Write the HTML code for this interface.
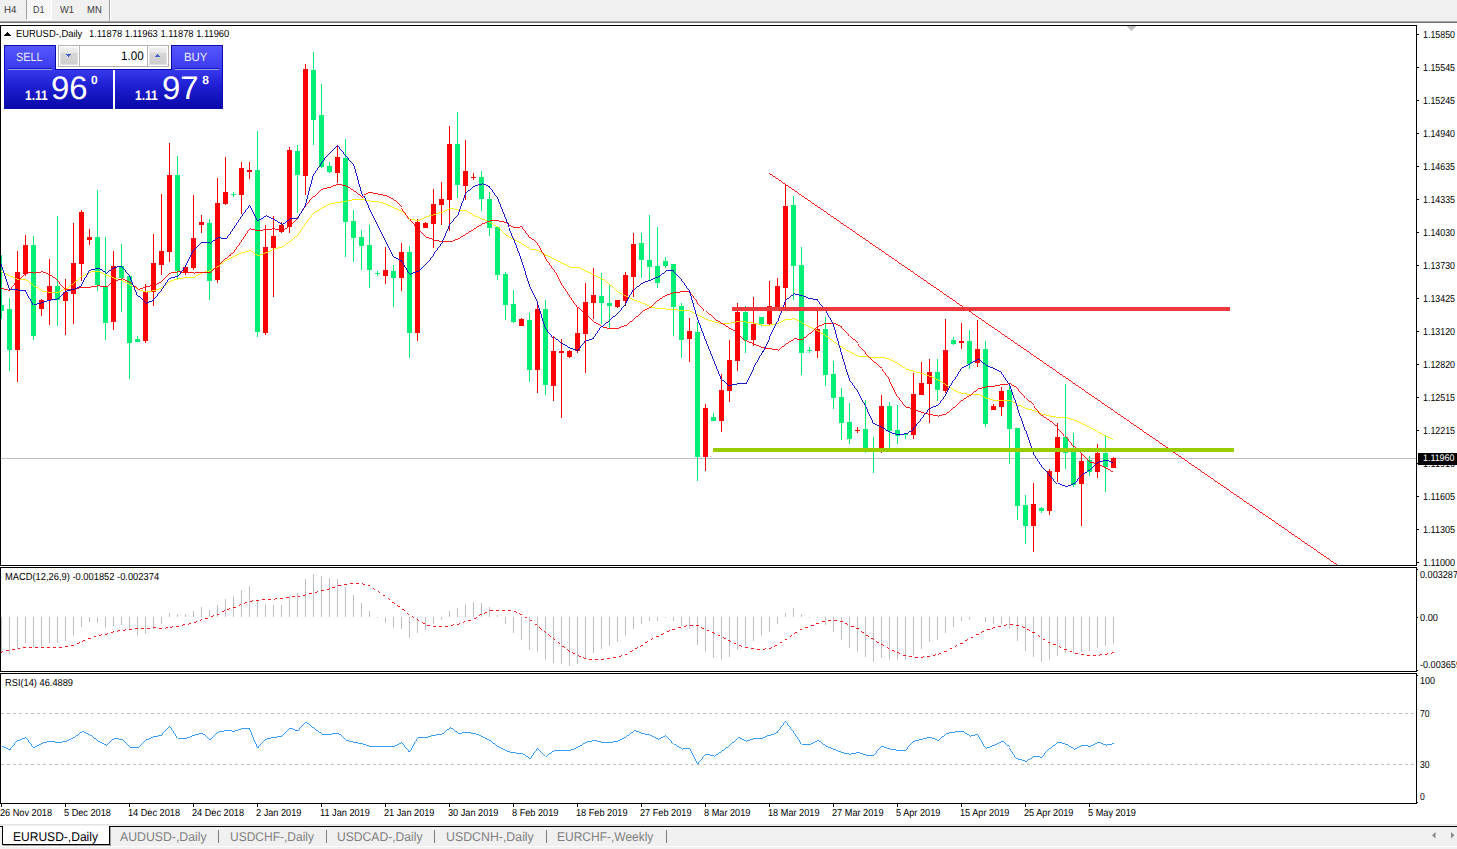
<!DOCTYPE html>
<html><head><meta charset="utf-8"><title>EURUSD Daily</title>
<style>
html,body{margin:0;padding:0;background:#fff;}
body{width:1457px;height:849px;overflow:hidden;font-family:"Liberation Sans",sans-serif;}
#root{position:relative;width:1457px;height:849px;overflow:hidden;background:#fff;}
.t{position:absolute;white-space:pre;transform-origin:0 50%;text-rendering:geometricPrecision;font-family:"Liberation Sans",sans-serif;}
.a{position:absolute;}
#toolbar{left:0;top:0;width:1457px;height:21px;background:#f0f0f0;}
#tbl1{left:0;top:21px;width:1457px;height:1px;background:#a8a8a8;}
#tbl2{left:0;top:22px;width:1457px;height:1px;background:#6e6e6e;}
#d1btn{left:26px;top:0;width:26px;height:20px;background:repeating-conic-gradient(#ffffff 0 25%,#f0f0f0 0 50%) 0 0/2px 2px;border-left:1px solid #a0a0a0;border-right:1px solid #fff;border-bottom:1px solid #fff;box-sizing:border-box;}
#tsep{left:109px;top:0;width:1px;height:21px;background:#a0a0a0;}
#tsep2{left:110px;top:0;width:1px;height:21px;background:#fff;}
#tabbar{left:0;top:825px;width:1457px;height:24px;background:#f0f0f0;}
#tabline0{left:0;top:824px;width:1457px;height:1px;background:#e3e3e3;}
#tabline{left:0;top:826px;width:1457px;height:1px;background:#000;}
#tabbot{left:0;top:846px;width:1457px;height:1px;background:#fff;}
#acttab{left:2px;top:826px;width:108px;height:19px;background:#fff;border:1px solid #000;border-top:none;box-sizing:border-box;box-shadow:1px 1px 0 #a0a0a0;}
.tsp{top:830px;width:1px;height:13px;background:#808080;}
/* trade widget */
#tw{left:4px;top:45px;width:219px;height:64px;background:linear-gradient(#5858ff 0%,#3c3cf0 35%,#2020d4 62%,#0808a8 100%);box-shadow:inset 0 0 0 1px #0c0cb4;}
#twcut{left:56px;top:45px;width:115px;height:24px;background:#fff;}
.nv{background:#0808a8;}
#twsep{left:113px;top:70px;width:2px;height:39px;background:#fff;}
#spin{left:58px;top:45px;width:111px;height:22px;background:#fff;border:1px solid #b2b2b2;box-sizing:border-box;}
.vl{top:46px;width:1px;height:20px;background:#b8b8b8;}
.sb{top:47px;width:18px;height:18px;background:linear-gradient(#f0f0f0 0%,#e6e6e6 33%,#d6d6d6 34%,#cecece 100%);box-shadow:inset 0 0 0 1px rgba(255,255,255,.35);}
.ul{top:69px;height:1px;background:#9c9cf8;}
.ud{top:68px;height:1px;background:#1818b8;}
.w{color:#fff;}

</style></head>
<body>
<div id="root">
<div class="a" id="toolbar"></div><div class="a" id="tbl1"></div><div class="a" id="tbl2"></div>
<div class="a" id="d1btn"></div><div class="a" id="tsep"></div><div class="a" id="tsep2"></div>
<div class="a" id="tabbar"></div><div class="a" id="tabline0"></div><div class="a" id="tabline"></div><div class="a" id="tabbot"></div>
<div class="a" id="acttab"></div>
<div class="a tsp" style="left:218px"></div><div class="a tsp" style="left:326px"></div><div class="a tsp" style="left:434px"></div><div class="a tsp" style="left:546px"></div><div class="a tsp" style="left:666px"></div>

<svg width="1457" height="849" viewBox="0 0 1457 849" style="position:absolute;left:0;top:0"><rect x="1" y="458" width="1416" height="1" fill="#c0c0c0" shape-rendering="crispEdges"/>
<g shape-rendering="crispEdges"><rect x="1" y="255" width="1" height="64" fill="#00ee76"/><rect x="-1" y="305" width="5" height="6" fill="#00ee76"/><rect x="9" y="298" width="1" height="73" fill="#00ee76"/><rect x="7" y="309" width="5" height="41" fill="#00ee76"/><rect x="17" y="251" width="1" height="131" fill="#ff0000"/><rect x="15" y="272" width="5" height="78" fill="#ff0000"/><rect x="25" y="235" width="1" height="41" fill="#ff0000"/><rect x="23" y="245" width="5" height="29" fill="#ff0000"/><rect x="33" y="236" width="1" height="104" fill="#00ee76"/><rect x="31" y="245" width="5" height="91" fill="#00ee76"/><rect x="41" y="299" width="1" height="17" fill="#ff0000"/><rect x="39" y="300" width="5" height="9" fill="#ff0000"/><rect x="49" y="259" width="1" height="66" fill="#ff0000"/><rect x="47" y="286" width="5" height="14" fill="#ff0000"/><rect x="57" y="216" width="1" height="110" fill="#00ee76"/><rect x="55" y="286" width="5" height="14" fill="#00ee76"/><rect x="65" y="279" width="1" height="56" fill="#ff0000"/><rect x="63" y="292" width="5" height="9" fill="#ff0000"/><rect x="73" y="223" width="1" height="101" fill="#ff0000"/><rect x="71" y="263" width="5" height="31" fill="#ff0000"/><rect x="81" y="210" width="1" height="71" fill="#ff0000"/><rect x="79" y="212" width="5" height="52" fill="#ff0000"/><rect x="89" y="229" width="1" height="16" fill="#ff0000"/><rect x="87" y="237" width="5" height="3" fill="#ff0000"/><rect x="97" y="190" width="1" height="101" fill="#00ee76"/><rect x="95" y="237" width="5" height="48" fill="#00ee76"/><rect x="105" y="237" width="1" height="103" fill="#00ee76"/><rect x="103" y="286" width="5" height="37" fill="#00ee76"/><rect x="113" y="251" width="1" height="79" fill="#ff0000"/><rect x="111" y="266" width="5" height="56" fill="#ff0000"/><rect x="121" y="244" width="1" height="68" fill="#00ee76"/><rect x="119" y="266" width="5" height="12" fill="#00ee76"/><rect x="129" y="275" width="1" height="104" fill="#00ee76"/><rect x="127" y="276" width="5" height="67" fill="#00ee76"/><rect x="137" y="336" width="1" height="6" fill="#00ee76"/><rect x="135" y="339" width="5" height="3" fill="#00ee76"/><rect x="145" y="284" width="1" height="59" fill="#ff0000"/><rect x="143" y="292" width="5" height="49" fill="#ff0000"/><rect x="153" y="234" width="1" height="72" fill="#ff0000"/><rect x="151" y="263" width="5" height="29" fill="#ff0000"/><rect x="161" y="194" width="1" height="81" fill="#ff0000"/><rect x="159" y="251" width="5" height="14" fill="#ff0000"/><rect x="169" y="143" width="1" height="119" fill="#ff0000"/><rect x="167" y="175" width="5" height="77" fill="#ff0000"/><rect x="177" y="156" width="1" height="124" fill="#00ee76"/><rect x="175" y="175" width="5" height="96" fill="#00ee76"/><rect x="185" y="265" width="1" height="10" fill="#ff0000"/><rect x="183" y="267" width="5" height="6" fill="#ff0000"/><rect x="193" y="195" width="1" height="75" fill="#ff0000"/><rect x="191" y="238" width="5" height="30" fill="#ff0000"/><rect x="201" y="215" width="1" height="18" fill="#ff0000"/><rect x="199" y="222" width="5" height="3" fill="#ff0000"/><rect x="209" y="219" width="1" height="81" fill="#00ee76"/><rect x="207" y="223" width="5" height="58" fill="#00ee76"/><rect x="217" y="178" width="1" height="105" fill="#ff0000"/><rect x="215" y="203" width="5" height="77" fill="#ff0000"/><rect x="225" y="157" width="1" height="48" fill="#ff0000"/><rect x="223" y="192" width="5" height="12" fill="#ff0000"/><rect x="233" y="192" width="1" height="5" fill="#00ee76"/><rect x="231" y="194" width="5" height="1" fill="#00ee76"/><rect x="241" y="162" width="1" height="52" fill="#ff0000"/><rect x="239" y="168" width="5" height="27" fill="#ff0000"/><rect x="249" y="162" width="1" height="17" fill="#ff0000"/><rect x="247" y="170" width="5" height="2" fill="#ff0000"/><rect x="257" y="131" width="1" height="206" fill="#00ee76"/><rect x="255" y="170" width="5" height="162" fill="#00ee76"/><rect x="265" y="225" width="1" height="110" fill="#ff0000"/><rect x="263" y="247" width="5" height="86" fill="#ff0000"/><rect x="273" y="216" width="1" height="81" fill="#ff0000"/><rect x="271" y="236" width="5" height="12" fill="#ff0000"/><rect x="281" y="222" width="1" height="11" fill="#ff0000"/><rect x="279" y="225" width="5" height="7" fill="#ff0000"/><rect x="289" y="147" width="1" height="86" fill="#ff0000"/><rect x="287" y="150" width="5" height="77" fill="#ff0000"/><rect x="297" y="145" width="1" height="68" fill="#00ee76"/><rect x="295" y="151" width="5" height="24" fill="#00ee76"/><rect x="305" y="64" width="1" height="131" fill="#ff0000"/><rect x="303" y="69" width="5" height="107" fill="#ff0000"/><rect x="313" y="52" width="1" height="93" fill="#00ee76"/><rect x="311" y="70" width="5" height="50" fill="#00ee76"/><rect x="321" y="84" width="1" height="84" fill="#00ee76"/><rect x="319" y="115" width="5" height="52" fill="#00ee76"/><rect x="329" y="162" width="1" height="11" fill="#00ee76"/><rect x="327" y="166" width="5" height="6" fill="#00ee76"/><rect x="337" y="146" width="1" height="37" fill="#ff0000"/><rect x="335" y="157" width="5" height="16" fill="#ff0000"/><rect x="345" y="139" width="1" height="118" fill="#00ee76"/><rect x="343" y="158" width="5" height="64" fill="#00ee76"/><rect x="353" y="210" width="1" height="52" fill="#00ee76"/><rect x="351" y="221" width="5" height="17" fill="#00ee76"/><rect x="361" y="230" width="1" height="40" fill="#00ee76"/><rect x="359" y="237" width="5" height="9" fill="#00ee76"/><rect x="369" y="225" width="1" height="63" fill="#00ee76"/><rect x="367" y="245" width="5" height="25" fill="#00ee76"/><rect x="377" y="271" width="1" height="5" fill="#00ee76"/><rect x="375" y="273" width="5" height="1" fill="#00ee76"/><rect x="385" y="247" width="1" height="37" fill="#ff0000"/><rect x="383" y="270" width="5" height="6" fill="#ff0000"/><rect x="393" y="265" width="1" height="42" fill="#00ee76"/><rect x="391" y="271" width="5" height="7" fill="#00ee76"/><rect x="401" y="243" width="1" height="48" fill="#ff0000"/><rect x="399" y="252" width="5" height="26" fill="#ff0000"/><rect x="409" y="246" width="1" height="112" fill="#00ee76"/><rect x="407" y="252" width="5" height="81" fill="#00ee76"/><rect x="417" y="219" width="1" height="122" fill="#ff0000"/><rect x="415" y="222" width="5" height="111" fill="#ff0000"/><rect x="425" y="222" width="1" height="6" fill="#ff0000"/><rect x="423" y="223" width="5" height="5" fill="#ff0000"/><rect x="433" y="189" width="1" height="59" fill="#ff0000"/><rect x="431" y="204" width="5" height="20" fill="#ff0000"/><rect x="441" y="182" width="1" height="43" fill="#ff0000"/><rect x="439" y="199" width="5" height="6" fill="#ff0000"/><rect x="449" y="126" width="1" height="105" fill="#ff0000"/><rect x="447" y="144" width="5" height="56" fill="#ff0000"/><rect x="457" y="112" width="1" height="86" fill="#00ee76"/><rect x="455" y="144" width="5" height="41" fill="#00ee76"/><rect x="465" y="140" width="1" height="60" fill="#ff0000"/><rect x="463" y="171" width="5" height="15" fill="#ff0000"/><rect x="473" y="173" width="1" height="7" fill="#ff0000"/><rect x="471" y="177" width="5" height="1" fill="#ff0000"/><rect x="481" y="171" width="1" height="40" fill="#00ee76"/><rect x="479" y="177" width="5" height="22" fill="#00ee76"/><rect x="489" y="192" width="1" height="44" fill="#00ee76"/><rect x="487" y="199" width="5" height="29" fill="#00ee76"/><rect x="497" y="227" width="1" height="53" fill="#00ee76"/><rect x="495" y="227" width="5" height="48" fill="#00ee76"/><rect x="505" y="272" width="1" height="48" fill="#00ee76"/><rect x="503" y="274" width="5" height="31" fill="#00ee76"/><rect x="513" y="290" width="1" height="33" fill="#00ee76"/><rect x="511" y="304" width="5" height="18" fill="#00ee76"/><rect x="521" y="318" width="1" height="8" fill="#ff0000"/><rect x="519" y="319" width="5" height="7" fill="#ff0000"/><rect x="529" y="313" width="1" height="69" fill="#00ee76"/><rect x="527" y="320" width="5" height="50" fill="#00ee76"/><rect x="537" y="302" width="1" height="91" fill="#ff0000"/><rect x="535" y="309" width="5" height="61" fill="#ff0000"/><rect x="545" y="300" width="1" height="95" fill="#00ee76"/><rect x="543" y="309" width="5" height="76" fill="#00ee76"/><rect x="553" y="336" width="1" height="65" fill="#ff0000"/><rect x="551" y="351" width="5" height="35" fill="#ff0000"/><rect x="561" y="339" width="1" height="79" fill="#ff0000"/><rect x="559" y="351" width="5" height="2" fill="#ff0000"/><rect x="569" y="350" width="1" height="8" fill="#ff0000"/><rect x="567" y="351" width="5" height="6" fill="#ff0000"/><rect x="577" y="308" width="1" height="45" fill="#ff0000"/><rect x="575" y="333" width="5" height="18" fill="#ff0000"/><rect x="585" y="283" width="1" height="90" fill="#ff0000"/><rect x="583" y="302" width="5" height="32" fill="#ff0000"/><rect x="593" y="268" width="1" height="51" fill="#ff0000"/><rect x="591" y="295" width="5" height="8" fill="#ff0000"/><rect x="601" y="273" width="1" height="51" fill="#00ee76"/><rect x="599" y="296" width="5" height="7" fill="#00ee76"/><rect x="609" y="285" width="1" height="43" fill="#00ee76"/><rect x="607" y="303" width="5" height="3" fill="#00ee76"/><rect x="617" y="300" width="1" height="8" fill="#ff0000"/><rect x="615" y="300" width="5" height="7" fill="#ff0000"/><rect x="625" y="272" width="1" height="34" fill="#ff0000"/><rect x="623" y="275" width="5" height="26" fill="#ff0000"/><rect x="633" y="233" width="1" height="64" fill="#ff0000"/><rect x="631" y="244" width="5" height="33" fill="#ff0000"/><rect x="641" y="233" width="1" height="45" fill="#00ee76"/><rect x="639" y="243" width="5" height="17" fill="#00ee76"/><rect x="649" y="215" width="1" height="65" fill="#00ee76"/><rect x="647" y="260" width="5" height="7" fill="#00ee76"/><rect x="657" y="227" width="1" height="61" fill="#00ee76"/><rect x="655" y="266" width="5" height="17" fill="#00ee76"/><rect x="665" y="257" width="1" height="11" fill="#00ee76"/><rect x="663" y="261" width="5" height="5" fill="#00ee76"/><rect x="673" y="264" width="1" height="72" fill="#00ee76"/><rect x="671" y="264" width="5" height="43" fill="#00ee76"/><rect x="681" y="303" width="1" height="55" fill="#00ee76"/><rect x="679" y="306" width="5" height="34" fill="#00ee76"/><rect x="689" y="318" width="1" height="44" fill="#ff0000"/><rect x="687" y="331" width="5" height="8" fill="#ff0000"/><rect x="697" y="322" width="1" height="159" fill="#00ee76"/><rect x="695" y="332" width="5" height="125" fill="#00ee76"/><rect x="705" y="404" width="1" height="67" fill="#ff0000"/><rect x="703" y="408" width="5" height="49" fill="#ff0000"/><rect x="713" y="413" width="1" height="8" fill="#00ee76"/><rect x="711" y="417" width="5" height="4" fill="#00ee76"/><rect x="721" y="374" width="1" height="58" fill="#ff0000"/><rect x="719" y="390" width="5" height="31" fill="#ff0000"/><rect x="729" y="340" width="1" height="62" fill="#ff0000"/><rect x="727" y="360" width="5" height="31" fill="#ff0000"/><rect x="737" y="303" width="1" height="68" fill="#ff0000"/><rect x="735" y="312" width="5" height="49" fill="#ff0000"/><rect x="745" y="306" width="1" height="47" fill="#00ee76"/><rect x="743" y="312" width="5" height="28" fill="#00ee76"/><rect x="753" y="297" width="1" height="49" fill="#ff0000"/><rect x="751" y="324" width="5" height="16" fill="#ff0000"/><rect x="761" y="317" width="1" height="9" fill="#00ee76"/><rect x="759" y="317" width="5" height="7" fill="#00ee76"/><rect x="769" y="281" width="1" height="44" fill="#ff0000"/><rect x="767" y="306" width="5" height="18" fill="#ff0000"/><rect x="777" y="278" width="1" height="31" fill="#ff0000"/><rect x="775" y="286" width="5" height="22" fill="#ff0000"/><rect x="785" y="184" width="1" height="124" fill="#ff0000"/><rect x="783" y="206" width="5" height="82" fill="#ff0000"/><rect x="793" y="196" width="1" height="104" fill="#00ee76"/><rect x="791" y="205" width="5" height="61" fill="#00ee76"/><rect x="801" y="247" width="1" height="128" fill="#00ee76"/><rect x="799" y="265" width="5" height="88" fill="#00ee76"/><rect x="809" y="347" width="1" height="6" fill="#00ee76"/><rect x="807" y="350" width="5" height="1" fill="#00ee76"/><rect x="817" y="310" width="1" height="48" fill="#ff0000"/><rect x="815" y="329" width="5" height="22" fill="#ff0000"/><rect x="825" y="317" width="1" height="69" fill="#00ee76"/><rect x="823" y="329" width="5" height="46" fill="#00ee76"/><rect x="833" y="361" width="1" height="48" fill="#00ee76"/><rect x="831" y="374" width="5" height="24" fill="#00ee76"/><rect x="841" y="388" width="1" height="52" fill="#00ee76"/><rect x="839" y="397" width="5" height="26" fill="#00ee76"/><rect x="849" y="403" width="1" height="41" fill="#00ee76"/><rect x="847" y="422" width="5" height="17" fill="#00ee76"/><rect x="857" y="427" width="1" height="6" fill="#ff0000"/><rect x="855" y="430" width="5" height="1" fill="#ff0000"/><rect x="865" y="400" width="1" height="53" fill="#00ee76"/><rect x="863" y="429" width="5" height="21" fill="#00ee76"/><rect x="873" y="437" width="1" height="36" fill="#00ee76"/><rect x="871" y="448" width="5" height="3" fill="#00ee76"/><rect x="881" y="395" width="1" height="58" fill="#ff0000"/><rect x="879" y="406" width="5" height="43" fill="#ff0000"/><rect x="889" y="402" width="1" height="46" fill="#00ee76"/><rect x="887" y="406" width="5" height="25" fill="#00ee76"/><rect x="897" y="405" width="1" height="39" fill="#00ee76"/><rect x="895" y="430" width="5" height="6" fill="#00ee76"/><rect x="905" y="433" width="1" height="6" fill="#00ee76"/><rect x="903" y="434" width="5" height="1" fill="#00ee76"/><rect x="913" y="373" width="1" height="66" fill="#ff0000"/><rect x="911" y="394" width="5" height="41" fill="#ff0000"/><rect x="921" y="362" width="1" height="33" fill="#ff0000"/><rect x="919" y="383" width="5" height="12" fill="#ff0000"/><rect x="929" y="359" width="1" height="64" fill="#ff0000"/><rect x="927" y="372" width="5" height="12" fill="#ff0000"/><rect x="937" y="359" width="1" height="42" fill="#00ee76"/><rect x="935" y="372" width="5" height="18" fill="#00ee76"/><rect x="945" y="319" width="1" height="74" fill="#ff0000"/><rect x="943" y="350" width="5" height="41" fill="#ff0000"/><rect x="953" y="337" width="1" height="8" fill="#00ee76"/><rect x="951" y="340" width="5" height="4" fill="#00ee76"/><rect x="961" y="323" width="1" height="26" fill="#ff0000"/><rect x="959" y="341" width="5" height="2" fill="#ff0000"/><rect x="969" y="330" width="1" height="39" fill="#00ee76"/><rect x="967" y="341" width="5" height="23" fill="#00ee76"/><rect x="977" y="320" width="1" height="47" fill="#ff0000"/><rect x="975" y="349" width="5" height="14" fill="#ff0000"/><rect x="985" y="341" width="1" height="86" fill="#00ee76"/><rect x="983" y="349" width="5" height="75" fill="#00ee76"/><rect x="993" y="404" width="1" height="6" fill="#ff0000"/><rect x="991" y="406" width="5" height="4" fill="#ff0000"/><rect x="1001" y="387" width="1" height="29" fill="#ff0000"/><rect x="999" y="391" width="5" height="16" fill="#ff0000"/><rect x="1009" y="386" width="1" height="78" fill="#00ee76"/><rect x="1007" y="390" width="5" height="39" fill="#00ee76"/><rect x="1017" y="428" width="1" height="92" fill="#00ee76"/><rect x="1015" y="428" width="5" height="78" fill="#00ee76"/><rect x="1025" y="495" width="1" height="49" fill="#00ee76"/><rect x="1023" y="505" width="5" height="21" fill="#00ee76"/><rect x="1033" y="483" width="1" height="69" fill="#ff0000"/><rect x="1031" y="504" width="5" height="22" fill="#ff0000"/><rect x="1041" y="507" width="1" height="6" fill="#00ee76"/><rect x="1039" y="508" width="5" height="3" fill="#00ee76"/><rect x="1049" y="469" width="1" height="46" fill="#ff0000"/><rect x="1047" y="471" width="5" height="40" fill="#ff0000"/><rect x="1057" y="423" width="1" height="59" fill="#ff0000"/><rect x="1055" y="437" width="5" height="35" fill="#ff0000"/><rect x="1065" y="384" width="1" height="85" fill="#00ee76"/><rect x="1063" y="437" width="5" height="16" fill="#00ee76"/><rect x="1073" y="433" width="1" height="54" fill="#00ee76"/><rect x="1071" y="452" width="5" height="33" fill="#00ee76"/><rect x="1081" y="453" width="1" height="73" fill="#ff0000"/><rect x="1079" y="461" width="5" height="23" fill="#ff0000"/><rect x="1089" y="456" width="1" height="20" fill="#00ee76"/><rect x="1087" y="460" width="5" height="12" fill="#00ee76"/><rect x="1097" y="444" width="1" height="34" fill="#ff0000"/><rect x="1095" y="453" width="5" height="19" fill="#ff0000"/><rect x="1105" y="436" width="1" height="56" fill="#00ee76"/><rect x="1103" y="453" width="5" height="14" fill="#00ee76"/><rect x="1113" y="457" width="1" height="11" fill="#ff0000"/><rect x="1111" y="458" width="5" height="10" fill="#ff0000"/></g>
<polyline points="0.0,271.0 9.5,276.0 17.5,279.5 25.5,280.0 33.5,286.0 41.5,291.0 49.5,292.5 57.5,292.0 65.5,288.8 73.5,282.5 81.5,276.0 89.5,272.0 97.5,271.0 105.5,275.0 113.5,278.0 121.5,280.5 129.5,285.0 137.5,289.5 145.5,292.0 153.5,290.5 161.5,287.5 169.5,281.0 177.5,278.8 185.5,277.5 193.5,277.0 201.5,272.5 209.5,270.5 217.5,266.0 225.5,260.0 233.5,256.0 241.5,252.5 249.5,250.5 257.5,255.5 265.5,252.5 273.5,249.0 281.5,246.8 289.5,241.0 297.5,234.5 305.5,222.5 313.5,212.5 321.5,207.5 329.5,203.8 337.5,202.5 345.5,201.0 353.5,199.5 361.5,199.0 364.0,199.5 369.5,201.0 377.5,201.8 385.5,204.0 393.5,208.0 401.5,211.8 409.5,219.0 417.5,220.8 425.5,216.8 433.5,214.5 441.5,212.0 449.5,208.0 457.5,210.0 465.5,210.8 473.5,215.8 481.5,219.0 489.5,222.5 497.5,227.5 505.5,235.0 513.5,239.5 521.5,244.0 529.5,249.0 537.5,250.5 545.5,255.5 553.5,259.0 561.5,263.0 569.5,267.0 577.5,267.5 585.5,271.0 593.5,275.0 601.5,279.0 609.5,285.0 617.5,292.5 625.5,296.0 633.5,300.0 641.5,303.0 649.5,306.8 657.5,308.8 665.5,309.0 673.5,309.5 681.5,310.8 689.5,311.0 697.5,315.0 705.5,319.5 713.5,321.8 721.5,323.8 728.0,323.5 737.5,321.8 745.5,322.0 753.5,323.2 761.5,325.0 769.5,325.0 777.5,323.0 785.5,319.5 793.5,318.8 801.5,323.0 809.5,327.5 817.5,331.2 825.5,336.2 833.5,342.0 841.5,347.5 849.5,352.5 857.5,356.2 865.5,356.8 873.5,358.0 881.5,357.2 889.5,359.5 897.5,363.8 905.5,369.2 913.5,371.5 921.5,373.5 929.5,376.5 937.5,380.0 945.5,385.0 953.5,390.5 961.5,393.8 969.5,394.2 977.5,394.2 985.5,398.0 993.5,400.5 1001.5,400.0 1009.5,400.8 1017.5,405.0 1025.5,408.5 1033.5,410.8 1041.5,414.0 1049.5,416.0 1057.5,417.5 1065.5,417.5 1073.5,420.0 1081.5,423.5 1089.5,427.5 1097.5,432.0 1105.5,436.0 1112.5,439.5" fill="none" stroke="#ffee00" stroke-width="0.9" shape-rendering="crispEdges"/>
<polyline points="0.0,288.0 9.5,290.5 17.5,280.0 25.5,272.5 33.5,273.0 41.5,271.8 49.5,275.0 57.5,280.8 65.5,289.5 73.5,288.8 81.5,287.5 89.5,287.0 97.5,285.8 105.5,286.8 113.5,281.0 121.5,278.8 129.5,282.5 137.5,289.5 145.5,286.8 153.5,285.0 161.5,281.0 169.5,273.0 177.5,271.8 185.5,272.5 193.5,273.0 201.5,272.0 209.5,272.0 217.5,265.0 225.5,258.0 233.5,252.5 241.5,241.0 249.5,228.8 257.5,230.5 265.5,229.5 273.5,228.8 281.5,231.0 289.5,225.0 297.5,218.0 305.5,206.0 313.5,196.0 321.5,189.0 329.5,187.0 337.5,184.0 345.5,186.0 353.5,191.0 361.5,197.0 364.0,195.0 369.5,192.5 377.5,194.0 385.5,195.8 393.5,200.0 401.5,207.5 409.5,218.8 417.5,228.8 425.5,237.0 433.5,240.0 441.5,241.8 449.5,241.8 457.5,238.8 465.5,233.8 473.5,228.8 481.5,223.8 489.5,220.8 497.5,220.8 505.5,222.5 513.5,227.5 521.5,226.8 529.5,237.5 537.5,243.8 545.5,257.5 553.5,268.8 561.5,283.8 569.5,296.2 577.5,307.5 585.5,315.0 593.5,322.0 601.5,326.8 609.5,328.8 617.5,328.2 625.5,325.0 633.5,318.8 641.5,311.5 649.5,307.2 657.5,300.0 665.5,295.0 673.5,292.5 681.5,291.8 689.5,291.8 697.5,302.5 705.5,311.2 713.5,318.8 721.5,323.8 728.0,327.5 737.5,332.5 745.5,340.8 753.5,344.2 761.5,347.5 769.5,348.8 777.5,350.0 785.5,343.8 793.5,338.8 801.5,339.5 809.5,333.2 817.5,326.2 825.5,323.2 833.5,323.2 841.5,327.0 849.5,336.2 857.5,343.8 865.5,353.0 873.5,362.0 881.5,368.8 889.5,379.5 897.5,396.2 905.5,407.0 913.5,409.5 921.5,412.5 929.5,414.5 937.5,416.2 945.5,413.8 953.5,407.0 961.5,400.0 969.5,395.0 977.5,388.8 985.5,386.8 993.5,386.2 1001.5,384.5 1009.5,383.8 1017.5,388.8 1025.5,398.2 1033.5,405.8 1041.5,415.8 1049.5,421.2 1057.5,427.5 1065.5,436.2 1073.5,446.5 1081.5,454.0 1089.5,462.0 1097.5,464.0 1105.5,468.0 1112.5,472.5" fill="none" stroke="#ff0000" stroke-width="0.9" shape-rendering="crispEdges"/>
<polyline points="0.0,261.0 9.5,289.5 25.5,290.5 33.5,304.5 41.5,302.5 49.5,300.0 57.5,298.8 65.5,291.0 73.5,289.0 81.5,285.0 89.5,270.0 97.5,268.0 105.5,273.0 113.5,267.5 121.5,266.0 129.5,276.0 137.5,296.0 145.5,303.0 153.5,300.0 161.5,290.0 169.5,278.0 177.5,276.0 185.5,265.5 193.5,250.0 201.5,242.0 209.5,243.0 217.5,237.5 225.5,239.0 233.5,227.5 241.5,215.5 249.5,204.5 257.5,220.5 265.5,215.5 273.5,219.5 281.5,224.5 289.5,218.8 297.5,218.8 305.5,205.0 313.5,173.8 321.5,162.5 329.5,153.0 337.5,144.5 345.5,154.5 353.5,163.8 361.5,192.5 364.0,196.0 369.5,208.8 377.5,225.0 385.5,241.0 393.5,257.0 401.5,261.0 409.5,274.0 417.5,271.0 425.5,264.0 433.5,254.5 441.5,243.8 449.5,225.0 457.5,215.0 465.5,192.5 473.5,186.0 481.5,183.8 489.5,187.0 497.5,198.0 505.5,218.0 513.5,238.8 521.5,260.0 529.5,286.0 537.5,302.5 545.5,327.5 553.5,337.5 561.5,343.8 569.5,348.2 577.5,350.8 585.5,340.8 593.5,338.0 601.5,326.2 609.5,319.5 617.5,312.5 625.5,303.5 633.5,289.0 641.5,283.0 649.5,280.0 657.5,276.8 665.5,270.8 673.5,271.0 681.5,280.0 689.5,291.0 697.5,318.8 705.5,340.0 713.5,360.0 721.5,380.0 728.0,386.0 737.5,383.8 745.5,383.5 753.5,367.5 761.5,353.8 769.5,337.5 777.5,321.2 785.5,299.5 793.5,293.8 801.5,295.8 809.5,298.8 817.5,299.5 825.5,310.0 833.5,325.0 841.5,353.8 849.5,380.0 857.5,391.2 865.5,406.2 873.5,423.8 881.5,427.5 889.5,432.5 897.5,434.5 905.5,433.8 913.5,428.8 921.5,418.8 929.5,408.2 937.5,405.0 945.5,394.5 953.5,380.0 961.5,367.5 969.5,363.5 977.5,359.0 985.5,365.5 993.5,368.8 1001.5,373.0 1009.5,385.0 1017.5,407.5 1025.5,430.0 1033.5,453.8 1041.5,466.2 1049.5,474.5 1057.5,483.5 1065.5,486.5 1073.5,483.5 1081.5,474.5 1089.5,469.8 1097.5,462.0 1105.5,460.0 1112.5,463.0" fill="none" stroke="#0000cd" stroke-width="0.9" shape-rendering="crispEdges"/>
<line x1="769" y1="173" x2="1338" y2="565.5" stroke="#ff0000" stroke-width="0.9" shape-rendering="crispEdges"/>
<g shape-rendering="crispEdges"><rect x="732" y="307" width="498" height="4" fill="#ee3a3f"/><rect x="713" y="448" width="521" height="4" fill="#99cc00"/></g>
<g shape-rendering="crispEdges"><rect x="1" y="617" width="1" height="36" fill="#c0c0c0"/><rect x="9" y="617" width="1" height="37" fill="#c0c0c0"/><rect x="17" y="617" width="1" height="32" fill="#c0c0c0"/><rect x="25" y="617" width="1" height="26" fill="#c0c0c0"/><rect x="33" y="617" width="1" height="30" fill="#c0c0c0"/><rect x="41" y="617" width="1" height="29" fill="#c0c0c0"/><rect x="49" y="617" width="1" height="26" fill="#c0c0c0"/><rect x="57" y="617" width="1" height="26" fill="#c0c0c0"/><rect x="65" y="617" width="1" height="24" fill="#c0c0c0"/><rect x="73" y="617" width="1" height="19" fill="#c0c0c0"/><rect x="81" y="617" width="1" height="10" fill="#c0c0c0"/><rect x="89" y="617" width="1" height="5" fill="#c0c0c0"/><rect x="97" y="617" width="1" height="6" fill="#c0c0c0"/><rect x="105" y="617" width="1" height="11" fill="#c0c0c0"/><rect x="113" y="617" width="1" height="9" fill="#c0c0c0"/><rect x="121" y="617" width="1" height="8" fill="#c0c0c0"/><rect x="129" y="617" width="1" height="12" fill="#c0c0c0"/><rect x="137" y="617" width="1" height="19" fill="#c0c0c0"/><rect x="145" y="617" width="1" height="17" fill="#c0c0c0"/><rect x="153" y="617" width="1" height="12" fill="#c0c0c0"/><rect x="161" y="617" width="1" height="7" fill="#c0c0c0"/><rect x="169" y="613" width="1" height="4" fill="#c0c0c0"/><rect x="177" y="614" width="1" height="3" fill="#c0c0c0"/><rect x="185" y="614" width="1" height="3" fill="#c0c0c0"/><rect x="193" y="611" width="1" height="6" fill="#c0c0c0"/><rect x="201" y="607" width="1" height="10" fill="#c0c0c0"/><rect x="209" y="610" width="1" height="7" fill="#c0c0c0"/><rect x="217" y="605" width="1" height="12" fill="#c0c0c0"/><rect x="225" y="599" width="1" height="18" fill="#c0c0c0"/><rect x="233" y="596" width="1" height="21" fill="#c0c0c0"/><rect x="241" y="590" width="1" height="27" fill="#c0c0c0"/><rect x="249" y="586" width="1" height="31" fill="#c0c0c0"/><rect x="257" y="600" width="1" height="17" fill="#c0c0c0"/><rect x="265" y="604" width="1" height="13" fill="#c0c0c0"/><rect x="273" y="605" width="1" height="12" fill="#c0c0c0"/><rect x="281" y="605" width="1" height="12" fill="#c0c0c0"/><rect x="289" y="596" width="1" height="21" fill="#c0c0c0"/><rect x="297" y="593" width="1" height="24" fill="#c0c0c0"/><rect x="305" y="579" width="1" height="38" fill="#c0c0c0"/><rect x="313" y="574" width="1" height="43" fill="#c0c0c0"/><rect x="321" y="576" width="1" height="41" fill="#c0c0c0"/><rect x="329" y="578" width="1" height="39" fill="#c0c0c0"/><rect x="337" y="579" width="1" height="38" fill="#c0c0c0"/><rect x="345" y="587" width="1" height="30" fill="#c0c0c0"/><rect x="353" y="595" width="1" height="22" fill="#c0c0c0"/><rect x="361" y="603" width="1" height="14" fill="#c0c0c0"/><rect x="369" y="611" width="1" height="6" fill="#c0c0c0"/><rect x="377" y="617" width="1" height="1" fill="#c0c0c0"/><rect x="385" y="617" width="1" height="6" fill="#c0c0c0"/><rect x="393" y="617" width="1" height="11" fill="#c0c0c0"/><rect x="401" y="617" width="1" height="12" fill="#c0c0c0"/><rect x="409" y="617" width="1" height="21" fill="#c0c0c0"/><rect x="417" y="617" width="1" height="16" fill="#c0c0c0"/><rect x="425" y="617" width="1" height="13" fill="#c0c0c0"/><rect x="433" y="617" width="1" height="7" fill="#c0c0c0"/><rect x="441" y="617" width="1" height="3" fill="#c0c0c0"/><rect x="449" y="611" width="1" height="6" fill="#c0c0c0"/><rect x="457" y="608" width="1" height="9" fill="#c0c0c0"/><rect x="465" y="604" width="1" height="13" fill="#c0c0c0"/><rect x="473" y="602" width="1" height="15" fill="#c0c0c0"/><rect x="481" y="603" width="1" height="14" fill="#c0c0c0"/><rect x="489" y="607" width="1" height="10" fill="#c0c0c0"/><rect x="497" y="615" width="1" height="2" fill="#c0c0c0"/><rect x="505" y="617" width="1" height="7" fill="#c0c0c0"/><rect x="513" y="617" width="1" height="16" fill="#c0c0c0"/><rect x="521" y="617" width="1" height="23" fill="#c0c0c0"/><rect x="529" y="617" width="1" height="33" fill="#c0c0c0"/><rect x="537" y="617" width="1" height="35" fill="#c0c0c0"/><rect x="545" y="617" width="1" height="43" fill="#c0c0c0"/><rect x="553" y="617" width="1" height="46" fill="#c0c0c0"/><rect x="561" y="617" width="1" height="47" fill="#c0c0c0"/><rect x="569" y="617" width="1" height="49" fill="#c0c0c0"/><rect x="577" y="617" width="1" height="47" fill="#c0c0c0"/><rect x="585" y="617" width="1" height="41" fill="#c0c0c0"/><rect x="593" y="617" width="1" height="36" fill="#c0c0c0"/><rect x="601" y="617" width="1" height="32" fill="#c0c0c0"/><rect x="609" y="617" width="1" height="29" fill="#c0c0c0"/><rect x="617" y="617" width="1" height="25" fill="#c0c0c0"/><rect x="625" y="617" width="1" height="19" fill="#c0c0c0"/><rect x="633" y="617" width="1" height="12" fill="#c0c0c0"/><rect x="641" y="617" width="1" height="7" fill="#c0c0c0"/><rect x="649" y="617" width="1" height="4" fill="#c0c0c0"/><rect x="657" y="617" width="1" height="4" fill="#c0c0c0"/><rect x="665" y="617" width="1" height="1" fill="#c0c0c0"/><rect x="673" y="617" width="1" height="4" fill="#c0c0c0"/><rect x="681" y="617" width="1" height="9" fill="#c0c0c0"/><rect x="689" y="617" width="1" height="12" fill="#c0c0c0"/><rect x="697" y="617" width="1" height="28" fill="#c0c0c0"/><rect x="705" y="617" width="1" height="35" fill="#c0c0c0"/><rect x="713" y="617" width="1" height="41" fill="#c0c0c0"/><rect x="721" y="617" width="1" height="43" fill="#c0c0c0"/><rect x="729" y="617" width="1" height="40" fill="#c0c0c0"/><rect x="737" y="617" width="1" height="33" fill="#c0c0c0"/><rect x="745" y="617" width="1" height="29" fill="#c0c0c0"/><rect x="753" y="617" width="1" height="24" fill="#c0c0c0"/><rect x="761" y="617" width="1" height="19" fill="#c0c0c0"/><rect x="769" y="617" width="1" height="15" fill="#c0c0c0"/><rect x="777" y="617" width="1" height="7" fill="#c0c0c0"/><rect x="785" y="613" width="1" height="4" fill="#c0c0c0"/><rect x="793" y="608" width="1" height="9" fill="#c0c0c0"/><rect x="801" y="614" width="1" height="3" fill="#c0c0c0"/><rect x="809" y="617" width="1" height="1" fill="#c0c0c0"/><rect x="817" y="617" width="1" height="1" fill="#c0c0c0"/><rect x="825" y="617" width="1" height="8" fill="#c0c0c0"/><rect x="833" y="617" width="1" height="15" fill="#c0c0c0"/><rect x="841" y="617" width="1" height="23" fill="#c0c0c0"/><rect x="849" y="617" width="1" height="31" fill="#c0c0c0"/><rect x="857" y="617" width="1" height="35" fill="#c0c0c0"/><rect x="865" y="617" width="1" height="40" fill="#c0c0c0"/><rect x="873" y="617" width="1" height="45" fill="#c0c0c0"/><rect x="881" y="617" width="1" height="41" fill="#c0c0c0"/><rect x="889" y="617" width="1" height="43" fill="#c0c0c0"/><rect x="897" y="617" width="1" height="43" fill="#c0c0c0"/><rect x="905" y="617" width="1" height="43" fill="#c0c0c0"/><rect x="913" y="617" width="1" height="38" fill="#c0c0c0"/><rect x="921" y="617" width="1" height="32" fill="#c0c0c0"/><rect x="929" y="617" width="1" height="25" fill="#c0c0c0"/><rect x="937" y="617" width="1" height="23" fill="#c0c0c0"/><rect x="945" y="617" width="1" height="16" fill="#c0c0c0"/><rect x="953" y="617" width="1" height="10" fill="#c0c0c0"/><rect x="961" y="617" width="1" height="4" fill="#c0c0c0"/><rect x="969" y="617" width="1" height="3" fill="#c0c0c0"/><rect x="985" y="617" width="1" height="5" fill="#c0c0c0"/><rect x="993" y="617" width="1" height="7" fill="#c0c0c0"/><rect x="1001" y="617" width="1" height="7" fill="#c0c0c0"/><rect x="1009" y="617" width="1" height="12" fill="#c0c0c0"/><rect x="1017" y="617" width="1" height="24" fill="#c0c0c0"/><rect x="1025" y="617" width="1" height="34" fill="#c0c0c0"/><rect x="1033" y="617" width="1" height="40" fill="#c0c0c0"/><rect x="1041" y="617" width="1" height="45" fill="#c0c0c0"/><rect x="1049" y="617" width="1" height="43" fill="#c0c0c0"/><rect x="1057" y="617" width="1" height="39" fill="#c0c0c0"/><rect x="1065" y="617" width="1" height="36" fill="#c0c0c0"/><rect x="1073" y="617" width="1" height="36" fill="#c0c0c0"/><rect x="1081" y="617" width="1" height="35" fill="#c0c0c0"/><rect x="1089" y="617" width="1" height="34" fill="#c0c0c0"/><rect x="1097" y="617" width="1" height="31" fill="#c0c0c0"/><rect x="1105" y="617" width="1" height="29" fill="#c0c0c0"/><rect x="1113" y="617" width="1" height="27" fill="#c0c0c0"/></g>
<polyline points="0.0,652.7 9.5,650.0 17.5,648.8 25.5,647.5 33.5,647.5 41.5,647.5 49.5,647.5 57.5,647.5 65.5,646.7 73.5,645.4 81.5,641.7 89.5,638.3 97.5,635.7 105.5,634.0 113.5,631.8 121.5,630.5 129.5,629.2 137.5,628.4 145.5,628.4 153.5,627.9 161.5,628.7 169.5,627.4 177.5,626.0 185.5,624.5 193.5,623.2 201.5,619.6 209.5,617.5 217.5,614.3 225.5,610.2 233.5,607.5 241.5,604.4 249.5,601.3 257.5,600.5 265.5,599.2 273.5,599.2 281.5,598.0 289.5,597.0 297.5,596.6 305.5,594.8 313.5,592.7 321.5,590.9 329.5,588.8 337.5,586.2 345.5,584.0 353.5,583.0 361.5,583.6 369.5,586.2 377.5,591.0 385.5,596.6 393.5,603.0 401.5,608.3 409.5,614.9 417.5,620.0 425.5,624.5 433.5,626.6 441.5,627.0 449.5,626.0 457.5,624.0 465.5,621.4 473.5,619.3 481.5,614.3 489.5,611.0 497.5,610.4 505.5,610.4 513.5,611.0 521.5,614.9 529.5,619.3 537.5,625.8 545.5,632.3 553.5,639.0 561.5,645.4 569.5,651.4 577.5,655.3 585.5,658.4 593.5,659.7 601.5,659.5 609.5,658.4 617.5,657.0 625.5,654.5 633.5,650.0 641.5,645.6 649.5,640.4 657.5,636.5 665.5,632.6 673.5,629.2 681.5,627.0 689.5,625.3 697.5,625.8 705.5,629.7 713.5,633.0 721.5,637.0 729.5,641.0 737.5,644.9 745.5,647.5 753.5,648.8 761.5,649.5 769.5,648.2 777.5,644.9 785.5,639.6 793.5,633.9 801.5,629.2 809.5,626.6 817.5,623.5 825.5,620.9 833.5,620.0 841.5,621.4 849.5,625.3 857.5,628.7 865.5,634.4 873.5,639.6 881.5,644.9 889.5,648.8 897.5,652.7 905.5,655.8 913.5,657.0 921.5,657.0 929.5,656.0 937.5,654.5 945.5,651.4 953.5,647.5 961.5,643.0 969.5,639.0 977.5,634.4 985.5,630.5 993.5,627.9 1001.5,625.8 1009.5,624.5 1017.5,625.3 1025.5,627.9 1033.5,632.6 1041.5,637.8 1049.5,643.0 1057.5,645.6 1065.5,649.5 1073.5,652.7 1081.5,654.8 1089.5,655.5 1097.5,655.5 1105.5,654.0 1113.5,652.7" fill="none" stroke="#ff0000" stroke-width="0.9" stroke-dasharray="3 3" shape-rendering="crispEdges"/>
<g shape-rendering="crispEdges"><line x1="1" y1="713.5" x2="1416" y2="713.5" stroke="#c0c0c0" stroke-width="1" stroke-dasharray="3 3"/><line x1="1" y1="764.5" x2="1416" y2="764.5" stroke="#c0c0c0" stroke-width="1" stroke-dasharray="3 3"/></g>
<polyline points="1.5,746.2 9.5,750.3 17.5,740.4 25.5,737.3 33.5,747.5 41.5,743.0 49.5,741.2 57.5,742.5 65.5,741.2 73.5,737.3 81.5,731.3 89.5,735.2 97.5,741.0 105.5,745.1 113.5,738.3 121.5,739.6 129.5,747.5 137.5,747.5 145.5,739.9 153.5,736.5 161.5,735.2 169.5,726.0 177.5,738.3 185.5,738.3 193.5,735.2 201.5,733.1 209.5,740.4 217.5,732.0 225.5,730.5 233.5,731.3 241.5,728.4 249.5,728.4 257.5,748.2 265.5,739.1 273.5,737.3 281.5,736.2 289.5,728.2 297.5,731.3 305.5,722.2 313.5,728.7 321.5,734.2 329.5,734.2 337.5,733.1 345.5,740.4 353.5,742.5 361.5,743.8 369.5,746.4 377.5,746.4 385.5,746.4 393.5,746.4 401.5,742.2 409.5,752.4 417.5,737.8 425.5,737.3 433.5,735.2 441.5,733.9 449.5,727.4 457.5,733.4 465.5,732.6 473.5,733.4 481.5,736.5 489.5,740.9 497.5,746.9 505.5,750.9 513.5,752.9 521.5,753.5 529.5,758.7 537.5,747.5 545.5,756.1 553.5,750.3 561.5,750.3 569.5,750.3 577.5,746.9 585.5,742.2 593.5,740.4 601.5,742.5 609.5,742.5 617.5,740.9 625.5,736.5 633.5,730.5 641.5,733.4 649.5,735.2 657.5,739.1 665.5,735.2 673.5,744.3 681.5,749.0 689.5,748.2 697.5,764.4 705.5,754.2 713.5,756.1 721.5,750.9 729.5,744.9 737.5,737.3 745.5,741.2 753.5,738.3 761.5,738.3 769.5,735.2 777.5,732.1 785.5,721.4 793.5,731.8 801.5,744.3 809.5,744.3 817.5,740.4 825.5,746.4 833.5,749.5 841.5,752.7 849.5,754.2 857.5,752.4 865.5,755.3 873.5,755.3 881.5,746.4 889.5,749.3 897.5,750.3 905.5,750.3 913.5,741.2 921.5,739.1 929.5,737.3 937.5,740.4 945.5,733.4 953.5,732.1 961.5,731.3 969.5,736.0 977.5,734.2 985.5,748.2 993.5,745.1 1001.5,741.2 1009.5,747.5 1017.5,759.2 1025.5,761.3 1033.5,756.1 1041.5,757.4 1049.5,748.2 1057.5,742.2 1065.5,744.3 1073.5,749.0 1081.5,745.1 1089.5,746.4 1097.5,742.2 1105.5,745.1 1113.5,743.5" fill="none" stroke="#1e90ff" stroke-width="0.9" shape-rendering="crispEdges"/>
<g shape-rendering="crispEdges"><rect x="0" y="25" width="1417" height="1" fill="#000"/><rect x="0" y="25" width="1" height="779" fill="#000"/><rect x="1416" y="25" width="1" height="779" fill="#000"/><rect x="0" y="565" width="1417" height="1" fill="#000"/><rect x="0" y="567" width="1417" height="1" fill="#000"/><rect x="0" y="671" width="1417" height="1" fill="#000"/><rect x="0" y="673" width="1417" height="1" fill="#000"/><rect x="0" y="803" width="1417" height="1" fill="#000"/><rect x="0" y="566" width="1417" height="1" fill="#fff"/><rect x="0" y="672" width="1417" height="1" fill="#fff"/><rect x="1417" y="34" width="2" height="1" fill="#000"/><rect x="1417" y="67" width="2" height="1" fill="#000"/><rect x="1417" y="100" width="2" height="1" fill="#000"/><rect x="1417" y="133" width="2" height="1" fill="#000"/><rect x="1417" y="166" width="2" height="1" fill="#000"/><rect x="1417" y="199" width="2" height="1" fill="#000"/><rect x="1417" y="232" width="2" height="1" fill="#000"/><rect x="1417" y="265" width="2" height="1" fill="#000"/><rect x="1417" y="298" width="2" height="1" fill="#000"/><rect x="1417" y="331" width="2" height="1" fill="#000"/><rect x="1417" y="364" width="2" height="1" fill="#000"/><rect x="1417" y="397" width="2" height="1" fill="#000"/><rect x="1417" y="430" width="2" height="1" fill="#000"/><rect x="1417" y="463" width="2" height="1" fill="#000"/><rect x="1417" y="496" width="2" height="1" fill="#000"/><rect x="1417" y="529" width="2" height="1" fill="#000"/><rect x="1417" y="562" width="2" height="1" fill="#000"/><rect x="1417" y="569" width="1" height="1" fill="#000"/><rect x="1417" y="617" width="1" height="1" fill="#000"/><rect x="1417" y="670" width="1" height="1" fill="#000"/><rect x="1417" y="675" width="1" height="1" fill="#000"/><rect x="1417" y="802" width="1" height="1" fill="#000"/><rect x="1" y="804" width="1" height="3" fill="#000"/><rect x="65" y="804" width="1" height="3" fill="#000"/><rect x="129" y="804" width="1" height="3" fill="#000"/><rect x="193" y="804" width="1" height="3" fill="#000"/><rect x="257" y="804" width="1" height="3" fill="#000"/><rect x="321" y="804" width="1" height="3" fill="#000"/><rect x="385" y="804" width="1" height="3" fill="#000"/><rect x="449" y="804" width="1" height="3" fill="#000"/><rect x="513" y="804" width="1" height="3" fill="#000"/><rect x="577" y="804" width="1" height="3" fill="#000"/><rect x="641" y="804" width="1" height="3" fill="#000"/><rect x="705" y="804" width="1" height="3" fill="#000"/><rect x="769" y="804" width="1" height="3" fill="#000"/><rect x="833" y="804" width="1" height="3" fill="#000"/><rect x="897" y="804" width="1" height="3" fill="#000"/><rect x="961" y="804" width="1" height="3" fill="#000"/><rect x="1025" y="804" width="1" height="3" fill="#000"/><rect x="1089" y="804" width="1" height="3" fill="#000"/></g>
<g shape-rendering="crispEdges" fill="#c0c0c0"><rect x="1127" y="26" width="9" height="1"/><rect x="1128" y="27" width="7" height="1"/><rect x="1129" y="28" width="5" height="1"/><rect x="1130" y="29" width="3" height="1"/><rect x="1131" y="30" width="1" height="1"/></g></svg>
<span class="t" style="left:3.7px;top:4.6px;font-size:10.2px;line-height:12px;font-weight:normal;color:#3c3c3c;transform:scaleX(0.952);">H4</span><span class="t" style="left:32.7px;top:4.6px;font-size:10.2px;line-height:12px;font-weight:normal;color:#3c3c3c;transform:scaleX(0.875);">D1</span><span class="t" style="left:60.2px;top:4.6px;font-size:10.2px;line-height:12px;font-weight:normal;color:#3c3c3c;transform:scaleX(0.916);">W1</span><span class="t" style="left:86.6px;top:4.6px;font-size:10.2px;line-height:12px;font-weight:normal;color:#3c3c3c;transform:scaleX(0.928);">MN</span><span class="t" style="left:16.2px;top:28.6px;font-size:10.2px;line-height:12px;font-weight:normal;color:#000;transform:scaleX(0.922);">EURUSD-,Daily</span><span class="t" style="left:89.3px;top:28.6px;font-size:10.2px;line-height:12px;font-weight:normal;color:#000;transform:scaleX(0.918);">1.11878 1.11963 1.11878 1.11960</span><span class="t" style="left:1422.7px;top:29.5px;font-size:10.2px;line-height:12px;font-weight:normal;color:#000;transform:scaleX(0.869);">1.15850</span><span class="t" style="left:1422.7px;top:62.5px;font-size:10.2px;line-height:12px;font-weight:normal;color:#000;transform:scaleX(0.869);">1.15545</span><span class="t" style="left:1422.7px;top:95.5px;font-size:10.2px;line-height:12px;font-weight:normal;color:#000;transform:scaleX(0.869);">1.15245</span><span class="t" style="left:1422.7px;top:128.5px;font-size:10.2px;line-height:12px;font-weight:normal;color:#000;transform:scaleX(0.869);">1.14940</span><span class="t" style="left:1422.7px;top:161.5px;font-size:10.2px;line-height:12px;font-weight:normal;color:#000;transform:scaleX(0.869);">1.14635</span><span class="t" style="left:1422.7px;top:194.5px;font-size:10.2px;line-height:12px;font-weight:normal;color:#000;transform:scaleX(0.869);">1.14335</span><span class="t" style="left:1422.7px;top:227.5px;font-size:10.2px;line-height:12px;font-weight:normal;color:#000;transform:scaleX(0.869);">1.14030</span><span class="t" style="left:1422.7px;top:260.5px;font-size:10.2px;line-height:12px;font-weight:normal;color:#000;transform:scaleX(0.869);">1.13730</span><span class="t" style="left:1422.7px;top:293.5px;font-size:10.2px;line-height:12px;font-weight:normal;color:#000;transform:scaleX(0.869);">1.13425</span><span class="t" style="left:1422.7px;top:326.5px;font-size:10.2px;line-height:12px;font-weight:normal;color:#000;transform:scaleX(0.869);">1.13120</span><span class="t" style="left:1422.7px;top:359.5px;font-size:10.2px;line-height:12px;font-weight:normal;color:#000;transform:scaleX(0.869);">1.12820</span><span class="t" style="left:1422.7px;top:392.5px;font-size:10.2px;line-height:12px;font-weight:normal;color:#000;transform:scaleX(0.869);">1.12515</span><span class="t" style="left:1422.7px;top:425.5px;font-size:10.2px;line-height:12px;font-weight:normal;color:#000;transform:scaleX(0.869);">1.12215</span><span class="t" style="left:1422.7px;top:458.5px;font-size:10.2px;line-height:12px;font-weight:normal;color:#000;transform:scaleX(0.887);">1.11910</span><span class="t" style="left:1422.7px;top:491.5px;font-size:10.2px;line-height:12px;font-weight:normal;color:#000;transform:scaleX(0.887);">1.11605</span><span class="t" style="left:1422.7px;top:524.5px;font-size:10.2px;line-height:12px;font-weight:normal;color:#000;transform:scaleX(0.887);">1.11305</span><span class="t" style="left:1422.7px;top:557.5px;font-size:10.2px;line-height:12px;font-weight:normal;color:#000;transform:scaleX(0.887);">1.11000</span><span class="t" style="left:5.0px;top:571.6px;font-size:10.2px;line-height:12px;font-weight:normal;color:#000;transform:scaleX(0.916);">MACD(12,26,9) -0.001852 -0.002374</span><span class="t" style="left:5.0px;top:677.6px;font-size:10.2px;line-height:12px;font-weight:normal;color:#000;transform:scaleX(0.910);">RSI(14) 46.4889</span><span class="t" style="left:1420.0px;top:570.3px;font-size:10.2px;line-height:12px;font-weight:normal;color:#000;transform:scaleX(0.894);">0.003287</span><span class="t" style="left:1420.0px;top:612.6px;font-size:10.2px;line-height:12px;font-weight:normal;color:#000;transform:scaleX(0.908);">0.00</span><span class="t" style="left:1420.0px;top:659.9px;font-size:10.2px;line-height:12px;font-weight:normal;color:#000;transform:scaleX(0.893);">-0.003659</span><span class="t" style="left:1420.0px;top:675.5px;font-size:10.2px;line-height:12px;font-weight:normal;color:#000;transform:scaleX(0.882);">100</span><span class="t" style="left:1419.6px;top:708.7px;font-size:10.2px;line-height:12px;font-weight:normal;color:#000;transform:scaleX(0.846);">70</span><span class="t" style="left:1419.6px;top:759.6px;font-size:10.2px;line-height:12px;font-weight:normal;color:#000;transform:scaleX(0.846);">30</span><span class="t" style="left:1420.0px;top:791.7px;font-size:10.2px;line-height:12px;font-weight:normal;color:#000;transform:scaleX(0.846);">0</span><span class="t" style="left:-0.2px;top:807.6px;font-size:10.2px;line-height:12px;font-weight:normal;color:#000;transform:scaleX(0.900);">26 Nov 2018</span><span class="t" style="left:63.8px;top:807.6px;font-size:10.2px;line-height:12px;font-weight:normal;color:#000;transform:scaleX(0.900);">5 Dec 2018</span><span class="t" style="left:127.8px;top:807.6px;font-size:10.2px;line-height:12px;font-weight:normal;color:#000;transform:scaleX(0.900);">14 Dec 2018</span><span class="t" style="left:191.8px;top:807.6px;font-size:10.2px;line-height:12px;font-weight:normal;color:#000;transform:scaleX(0.900);">24 Dec 2018</span><span class="t" style="left:255.8px;top:807.6px;font-size:10.2px;line-height:12px;font-weight:normal;color:#000;transform:scaleX(0.900);">2 Jan 2019</span><span class="t" style="left:319.8px;top:807.6px;font-size:10.2px;line-height:12px;font-weight:normal;color:#000;transform:scaleX(0.900);">11 Jan 2019</span><span class="t" style="left:383.8px;top:807.6px;font-size:10.2px;line-height:12px;font-weight:normal;color:#000;transform:scaleX(0.900);">21 Jan 2019</span><span class="t" style="left:447.8px;top:807.6px;font-size:10.2px;line-height:12px;font-weight:normal;color:#000;transform:scaleX(0.900);">30 Jan 2019</span><span class="t" style="left:511.8px;top:807.6px;font-size:10.2px;line-height:12px;font-weight:normal;color:#000;transform:scaleX(0.900);">8 Feb 2019</span><span class="t" style="left:575.8px;top:807.6px;font-size:10.2px;line-height:12px;font-weight:normal;color:#000;transform:scaleX(0.900);">18 Feb 2019</span><span class="t" style="left:639.8px;top:807.6px;font-size:10.2px;line-height:12px;font-weight:normal;color:#000;transform:scaleX(0.900);">27 Feb 2019</span><span class="t" style="left:703.8px;top:807.6px;font-size:10.2px;line-height:12px;font-weight:normal;color:#000;transform:scaleX(0.900);">8 Mar 2019</span><span class="t" style="left:767.8px;top:807.6px;font-size:10.2px;line-height:12px;font-weight:normal;color:#000;transform:scaleX(0.900);">18 Mar 2019</span><span class="t" style="left:831.8px;top:807.6px;font-size:10.2px;line-height:12px;font-weight:normal;color:#000;transform:scaleX(0.900);">27 Mar 2019</span><span class="t" style="left:895.8px;top:807.6px;font-size:10.2px;line-height:12px;font-weight:normal;color:#000;transform:scaleX(0.900);">5 Apr 2019</span><span class="t" style="left:959.8px;top:807.6px;font-size:10.2px;line-height:12px;font-weight:normal;color:#000;transform:scaleX(0.900);">15 Apr 2019</span><span class="t" style="left:1023.8px;top:807.6px;font-size:10.2px;line-height:12px;font-weight:normal;color:#000;transform:scaleX(0.900);">25 Apr 2019</span><span class="t" style="left:1087.8px;top:807.6px;font-size:10.2px;line-height:12px;font-weight:normal;color:#000;transform:scaleX(0.900);">5 May 2019</span><span class="t" style="left:13.4px;top:829.5px;font-size:12.7px;line-height:15px;font-weight:normal;color:#000;transform:scaleX(0.949);">EURUSD-,Daily</span><span class="t" style="left:120.3px;top:829.5px;font-size:12.7px;line-height:15px;font-weight:normal;color:#808080;transform:scaleX(0.968);">AUDUSD-,Daily</span><span class="t" style="left:230.3px;top:829.5px;font-size:12.7px;line-height:15px;font-weight:normal;color:#808080;transform:scaleX(0.946);">USDCHF-,Daily</span><span class="t" style="left:337.3px;top:829.5px;font-size:12.7px;line-height:15px;font-weight:normal;color:#808080;transform:scaleX(0.955);">USDCAD-,Daily</span><span class="t" style="left:446.2px;top:829.5px;font-size:12.7px;line-height:15px;font-weight:normal;color:#808080;transform:scaleX(0.973);">USDCNH-,Daily</span><span class="t" style="left:557.4px;top:829.5px;font-size:12.7px;line-height:15px;font-weight:normal;color:#808080;transform:scaleX(0.945);">EURCHF-,Weekly</span>

<div class="a" id="tw"></div>
<div class="a" id="twcut"></div>
<div class="a nv" style="left:55px;top:45px;width:1px;height:24px"></div><div class="a nv" style="left:171px;top:45px;width:1px;height:24px"></div><div class="a nv" style="left:55px;top:69px;width:117px;height:1px"></div>
<div class="a" id="twsep"></div>
<div class="a" id="spin"></div>
<div class="a vl" style="left:79px"></div><div class="a vl" style="left:147px"></div>
<div class="a sb" style="left:60px"></div><div class="a sb" style="left:149px"></div>
<div class="a ud" style="left:8px;width:44px"></div><div class="a ud" style="left:175px;width:44px"></div>
<div class="a ul" style="left:8px;width:44px"></div><div class="a ul" style="left:175px;width:44px"></div>
<svg class="a" style="left:0;top:0" width="240" height="120" viewBox="0 0 240 120">
<g shape-rendering="crispEdges"><rect x="7" y="32" width="1" height="1"/><rect x="6" y="33" width="3" height="1"/><rect x="5" y="34" width="5" height="1"/><rect x="4" y="35" width="7" height="1"/></g>
<g shape-rendering="crispEdges" fill="#4c60c8"><rect x="66" y="54" width="5" height="1"/><rect x="67" y="55" width="3" height="1"/><rect x="68" y="56" width="1" height="1"/><rect x="157" y="54" width="1" height="1"/><rect x="156" y="55" width="3" height="1"/><rect x="155" y="56" width="5" height="1"/></g>
</svg>
<svg class="a" style="left:1425px;top:828px" width="32" height="16" viewBox="0 0 32 16"><polygon points="10.5,4 10.5,10.5 7,7.25" fill="#8a8a8a"/><polygon points="26,4 26,10.5 29.5,7.25" fill="#8a8a8a"/></svg>
<span class="t" style="left:16.3px;top:50px;font-size:12px;line-height:14px;color:#ececff;transform:scaleX(0.9)">SELL</span>
<span class="t" style="left:184.3px;top:50px;font-size:12px;line-height:14px;color:#ececff;transform:scaleX(0.95)">BUY</span>
<span class="t" style="left:121px;top:48.5px;font-size:12.5px;line-height:14px;color:#000;transform:scaleX(0.93)">1.00</span>
<span class="t w" style="left:24.5px;top:86.5px;font-size:14px;line-height:16px;font-weight:bold;transform:scaleX(0.86)">1.11</span>
<span class="t w" style="left:51.3px;top:68px;font-size:32.6px;line-height:40px;transform:scaleX(1.01)">96</span>
<span class="t w" style="left:91px;top:72.5px;font-size:12px;line-height:14px;font-weight:bold;">0</span>
<span class="t w" style="left:134.7px;top:86.5px;font-size:14px;line-height:16px;font-weight:bold;transform:scaleX(0.86)">1.11</span>
<span class="t w" style="left:162.3px;top:68px;font-size:32.6px;line-height:40px;transform:scaleX(1.01)">97</span>
<span class="t w" style="left:202.3px;top:72.5px;font-size:12px;line-height:14px;font-weight:bold;">8</span>
<div class="a" style="left:1418px;top:453px;width:39px;height:12px;background:#000"></div>
<span class="t w" style="left:1422.7px;top:453px;font-size:9.6px;line-height:12px;transform:scaleX(0.925)">1.11960</span>

</div>
</body></html>
